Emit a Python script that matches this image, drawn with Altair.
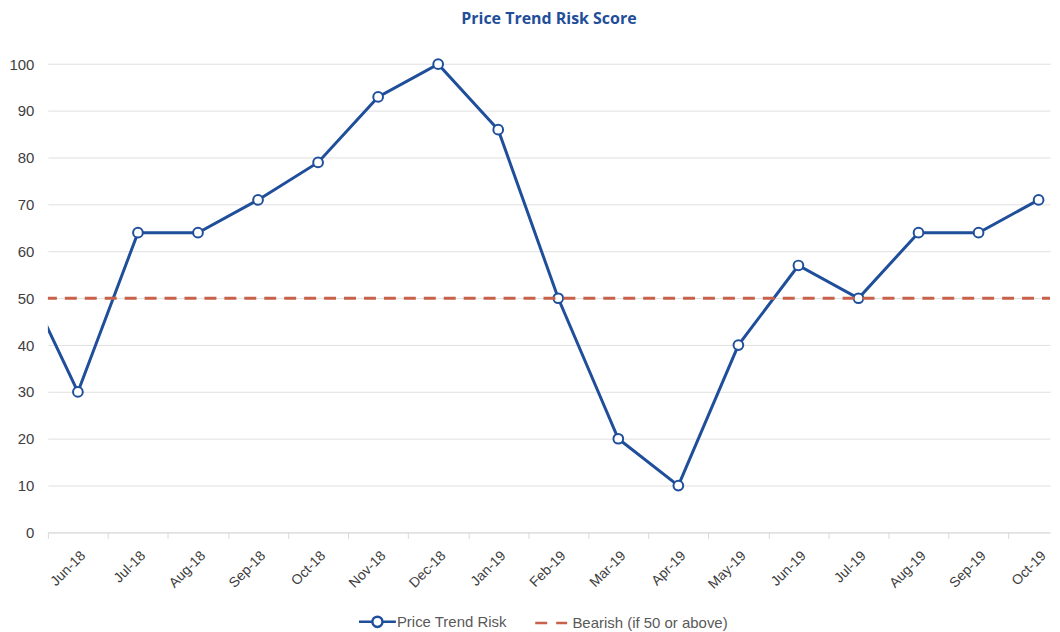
import altair as alt
import pandas as pd

months = ["May-18", "Jun-18", "Jul-18", "Aug-18", "Sep-18", "Oct-18", "Nov-18", "Dec-18",
          "Jan-19", "Feb-19", "Mar-19", "Apr-19", "May-19", "Jun-19", "Jul-19",
          "Aug-19", "Sep-19", "Oct-19"]
risk = [57, 30, 64, 64, 71, 79, 93, 100, 86, 50, 20, 10, 40, 57, 50, 64, 64, 71]
idx = list(range(-1, len(months) - 1))  # May-18 lies just outside the visible window
visible_labels = months[1:]
threshold = 50

S1 = "Price Trend Risk"
S2 = "Bearish (if 50 or above)"
BLUE = "#1F4E9A"
RED = "#C8614A"

df = pd.DataFrame({"i": idx, "month": months, "value": risk, "series": S1})
rule_df = pd.DataFrame({"value": [threshold], "series": [S2]})

xmin, xmax = -0.5, 16.19
tick_vals = [k + 0.5 for k in range(-1, 17)] + list(range(0, 17))

label_js = "[" + ",".join('"%s"' % m for m in visible_labels) + "]"

x = alt.X(
    "i:Q",
    scale=alt.Scale(domain=[xmin, xmax], nice=False, zero=False),
    axis=alt.Axis(
        values=tick_vals,
        labelExpr=f"datum.value % 1 == 0 ? {label_js}[datum.value] : ''",
        labelAngle=-45,
        labelAlign="right",
        labelBaseline="top",
        labelFont="Liberation Sans",
        labelFontSize=14,
        labelColor="#404040",
        labelPadding=10,
        labelOverlap=False,
        labelFlush=False,
        grid=False,
        domain=True,
        domainColor="#D9D9D9",
        domainWidth=1,
        ticks=True,
        tickSize=6,
        tickColor="#D9D9D9",
        tickOpacity=alt.ConditionalAxisNumber(
            condition={"test": "datum.value % 1 != 0", "value": 1}, value=0
        ),
        title=None,
    ),
)

y = alt.Y(
    "value:Q",
    scale=alt.Scale(domain=[0, 102], nice=False),
    axis=alt.Axis(
        values=list(range(0, 101, 10)),
        grid=True,
        gridColor="#E0E0E0",
        gridWidth=1,
        domain=False,
        ticks=False,
        labelFont="Liberation Sans",
        labelFontSize=15,
        labelColor="#404040",
        labelPadding=14,
        title=None,
    ),
)

series_domain = [S1, S2]
color_scale = alt.Scale(domain=series_domain, range=[BLUE, RED])
circle_path = ("M-2,0H-0.55 M0.55,0H2 M-0.55,0A0.55,0.55 0 1,1 0.55,0A0.55,0.55 0 1,1 -0.55,0")
dash_path = "M-1.92,0H-0.62 M0.35,0H1.54"
shape_scale = alt.Scale(domain=series_domain, range=[circle_path, dash_path])

legend = alt.Legend(
    orient="none",
    legendX=320,
    legendY=558,
    direction="horizontal",
    title=None,
    labelFont="Liberation Sans",
    labelFontSize=15,
    labelColor="#595959",
    symbolSize=342,
    symbolStrokeWidth=2.5,
    symbolFillColor="white",
    columnPadding=22,
    labelOffset=9,
)

line = alt.Chart(df).mark_line(strokeWidth=3, clip=True).encode(
    x=x, y=y,
    stroke=alt.Stroke("series:N", scale=color_scale, legend=legend),
)

pts = alt.Chart(df).mark_point(
    shape="circle", filled=False, fill="white", fillOpacity=1, size=95,
    strokeWidth=2, opacity=1, stroke=BLUE
).encode(x=x, y=y).transform_filter("datum.i >= 0")

legend_only = alt.Chart(df).mark_point(opacity=1, filled=False).encode(
    x=x, y=y,
    stroke=alt.Stroke("series:N", scale=color_scale, legend=legend),
    shape=alt.Shape("series:N", scale=shape_scale, legend=legend),
).transform_filter("false")

rule = alt.Chart(rule_df).mark_rule(strokeWidth=3, strokeDash=[12, 8], strokeDashOffset=4).encode(
    y=alt.Y("value:Q"),
    stroke=alt.Stroke("series:N", scale=color_scale, legend=legend),
)

chart = alt.layer(line, pts, legend_only, rule).properties(
    width=1005,
    height=479,
    background="white",
    padding={"left": 0, "top": 2, "right": 0, "bottom": 0},
    title=alt.TitleParams(
        "Price Trend Risk Score",
        font="Open Sans",
        fontSize=16,
        fontWeight="bold",
        color="#1F4E9A",
        anchor="middle",
        offset=28,
    ),
).configure_view(stroke=None)

chart.save("out.html", embed_options={"renderer": "svg", "actions": False})
